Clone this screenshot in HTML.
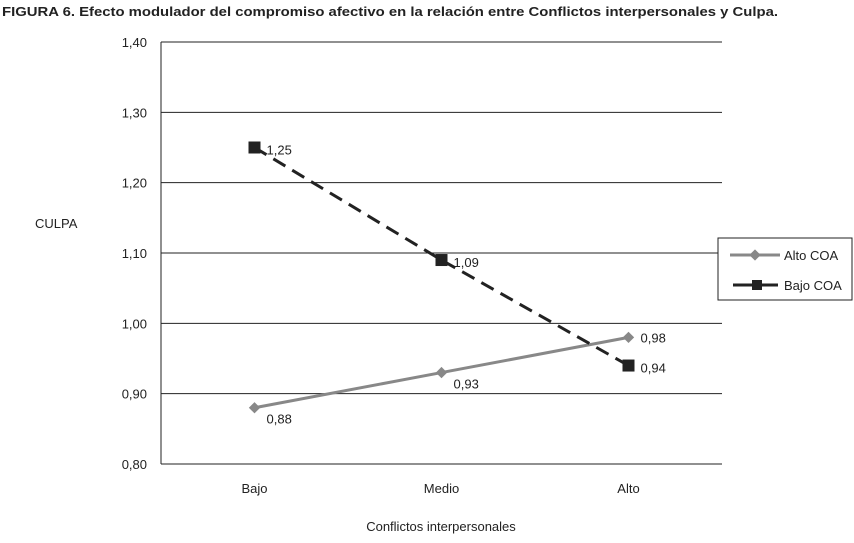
<!DOCTYPE html>
<html><head><meta charset="utf-8"><style>
body{margin:0;background:#fff;}
svg text{font-family:"Liberation Sans",sans-serif;fill:#222;}
</style></head><body>
<svg width="854" height="538" id="c">
<text x="2" y="16" font-size="13" font-weight="bold" textLength="776" lengthAdjust="spacingAndGlyphs">FIGURA 6. Efecto modulador del compromiso afectivo en la relación entre Conflictos interpersonales y Culpa.</text>
<text x="35" y="228" font-size="13">CULPA</text>
<text x="441" y="531" font-size="13" text-anchor="middle">Conflictos interpersonales</text>
<g id="grid"></g><g id="series"></g>
<g>
<rect x="718" y="238" width="134" height="62" fill="#fff" stroke="#222" stroke-width="1"/>
<line x1="730" y1="255" x2="780" y2="255" stroke="#888" stroke-width="3"/>
<rect x="751" y="251" width="8" height="8" fill="#888" transform="rotate(45 755 255)"/>
<text x="784" y="260" font-size="13">Alto COA</text>
<line x1="733" y1="285" x2="778" y2="285" stroke="#222" stroke-width="3"/>
<rect x="752" y="280" width="10" height="10" fill="#222"/>
<text x="784" y="290" font-size="13">Bajo COA</text>
</g>
</svg>
<script>
const categories=["Bajo","Medio","Alto"];
const altoValues=[0.88,0.93,0.98];
const bajoValues=[1.25,1.09,0.94];
const yTicks=[0.80,0.90,1.00,1.10,1.20,1.30,1.40];
const NS="http://www.w3.org/2000/svg";
const L=161,R=722,T=42,B=464;
const x=i=>L+(R-L)/categories.length*(i+0.5);
const y=v=>B-(v-0.8)/(0.6)*(B-T);
function mk(t,a,p){const e=document.createElementNS(NS,t);for(const k in a)e.setAttribute(k,a[k]);p.appendChild(e);return e;}
const g=document.getElementById('grid'),s=document.getElementById('series');
yTicks.forEach(v=>{
 const l=mk('line',{x1:L,x2:R,y1:y(v),y2:y(v),stroke:'#222','stroke-width':1},g);
 
 
 const t=mk('text',{x:L-14,y:y(v)+5,'font-size':13,'text-anchor':'end'},g);
 t.textContent=v.toFixed(2).replace('.',',');
 
 
});
mk('line',{x1:L,x2:L,y1:T,y2:B,stroke:'#222'},g);
categories.forEach((c,i)=>{
 const t=mk('text',{x:x(i),y:493,'font-size':13,'text-anchor':'middle'},g);
 t.textContent=c;
 
 
});
const pa=altoValues.map((v,i)=>x(i)+','+y(v)).join(' ');
const la=mk('polyline',{points:pa,fill:'none',stroke:'#888','stroke-width':3},s);


const pb=bajoValues.map((v,i)=>x(i)+','+y(v)).join(' ');
const lb=mk('polyline',{points:pb,fill:'none',stroke:'#222','stroke-width':3,'stroke-dasharray':'14,8'},s);


altoValues.forEach((v,i)=>{
 const m=mk('rect',{x:x(i)-4,y:y(v)-4,width:8,height:8,fill:'#888',transform:`rotate(45 ${x(i)} ${y(v)})`},s);
 
 
 const t=mk('text',{x:x(i)+12,y:y(v)+(i==2?5:16),'font-size':13},s);
 t.textContent=v.toFixed(2).replace('.',',');
 
 
});
bajoValues.forEach((v,i)=>{
 const m=mk('rect',{x:x(i)-6,y:y(v)-6,width:12,height:12,fill:'#222'},s);
 
 
 const t=mk('text',{x:x(i)+12,y:y(v)+7,'font-size':13},s);
 t.textContent=v.toFixed(2).replace('.',',');
 
 
});
</script>
</body></html>
